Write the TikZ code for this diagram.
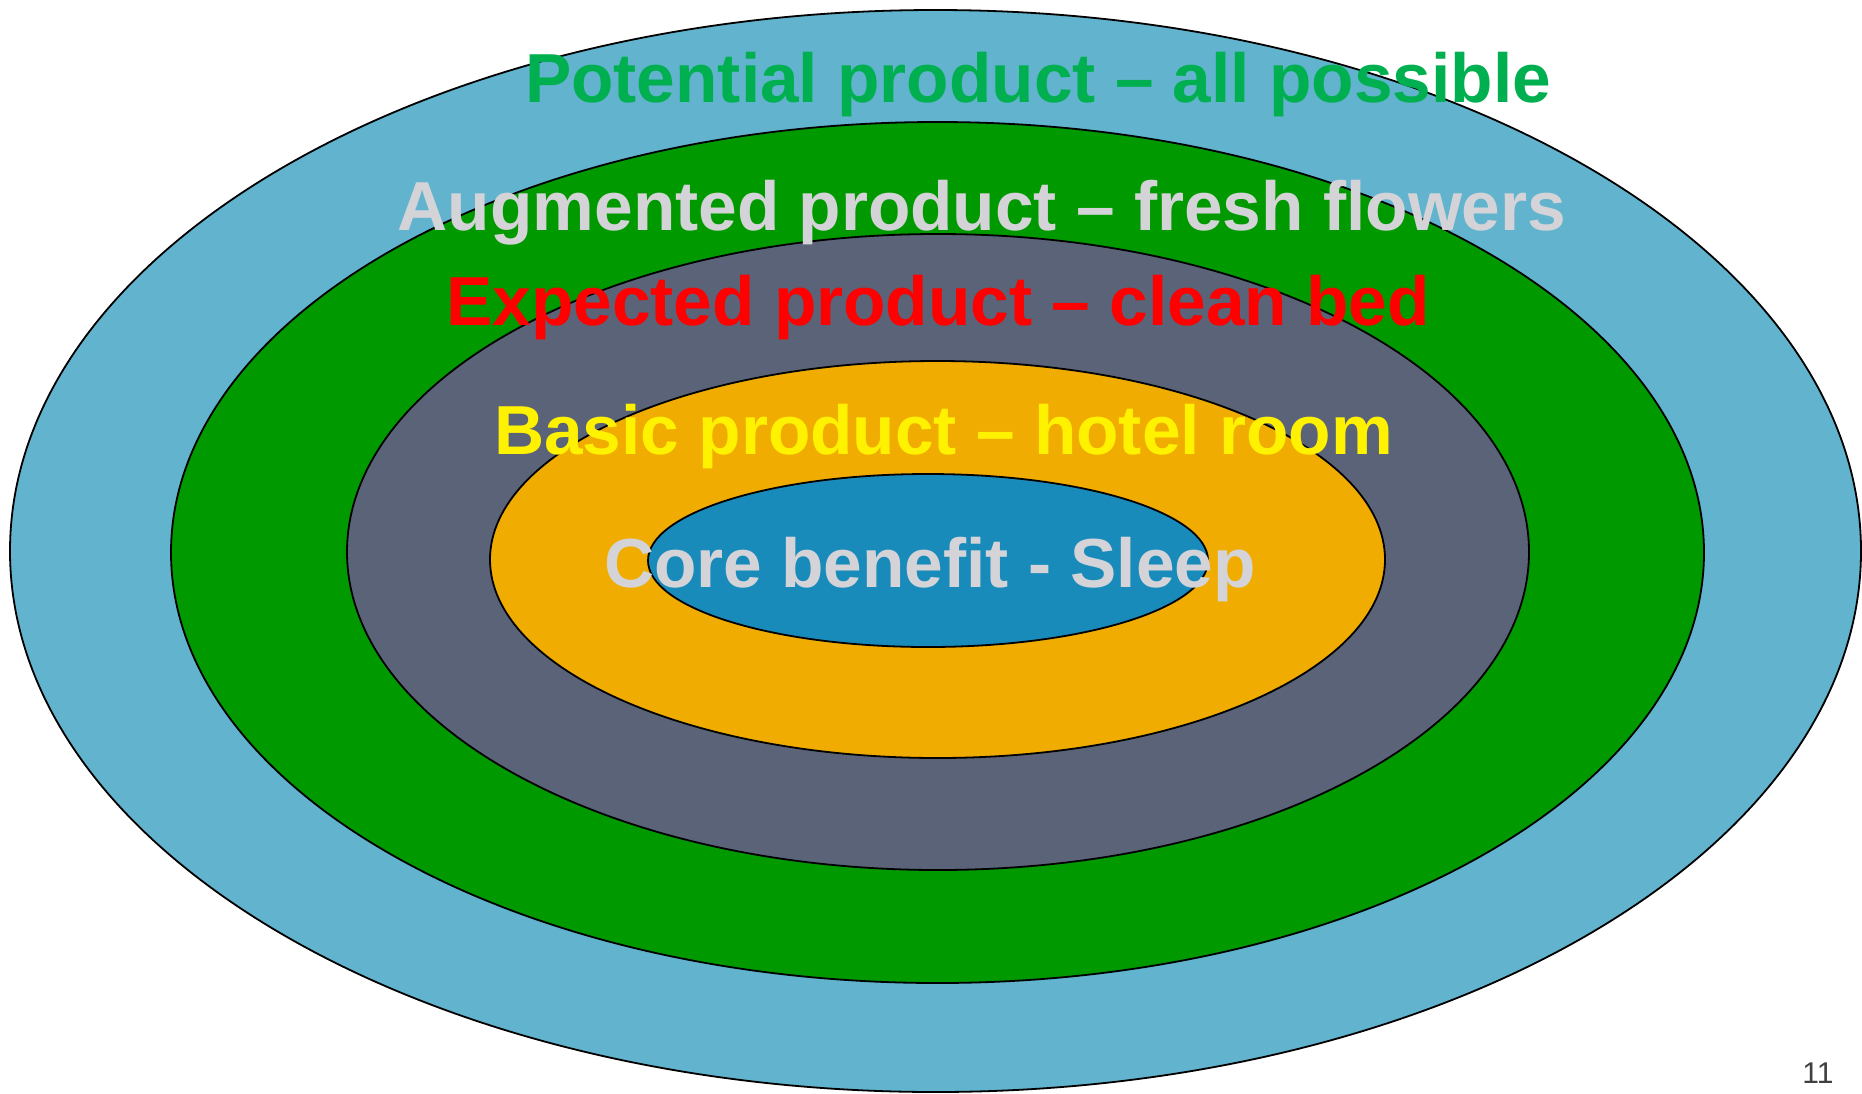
\documentclass[tikz,border=0pt]{standalone}
\usepackage{fontspec}
\setmainfont{Liberation Sans}
\definecolor{outerblue}{HTML}{62B3CD}
\definecolor{ringgreen}{HTML}{009900}
\definecolor{ringgray}{HTML}{5A6377}
\definecolor{ringorange}{HTML}{F0AC00}
\definecolor{coreblue}{HTML}{198BBB}
\definecolor{txtgreen}{HTML}{00B050}
\definecolor{txtgray}{HTML}{D4D4D8}
\definecolor{pagegray}{HTML}{404040}
\tikzset{
  ring/.style={draw=black, line width=1.8pt},
  lbl/.style={anchor=base, inner sep=0pt, font=\fontsize{69.4}{80}\selectfont\bfseries},
}
\begin{document}
\begin{tikzpicture}[x=1pt,y=-1pt]
\useasboundingbox[fill=white] (0,0) rectangle (1862,1093);
\path[ring, fill=outerblue] (935.5,551) ellipse [x radius=925.5pt, y radius=541pt];
\path[ring, fill=ringgreen] (937.5,552.5) ellipse [x radius=766.5pt, y radius=430.5pt];
\path[ring, fill=ringgray] (938,552) ellipse [x radius=591pt, y radius=318pt];
\path[ring, fill=ringorange] (937.5,559.5) ellipse [x radius=447.5pt, y radius=198.5pt];
\path[ring, fill=coreblue] (928,560.5) ellipse [x radius=280pt, y radius=86.5pt];
\node[lbl, text=txtgreen] (potential) at (1038,102) {Potential product – all possible};
\node[lbl, text=txtgray] (augmented) at (982,230) {Augmented product – fresh flowers};
\node[lbl, text=red] (expected) at (938,325) {Expected product – clean bed};
\node[lbl, text=yellow] (basic) at (943.5,454) {Basic product – hotel room};
\node[lbl, text=txtgray] (core) at (930,587) {Core benefit - Sleep};
\node[anchor=base, inner sep=0pt, text=pagegray, font=\fontsize{30}{34}\selectfont] (pagenum) at (1818,1083) {11};
\end{tikzpicture}
\end{document}
